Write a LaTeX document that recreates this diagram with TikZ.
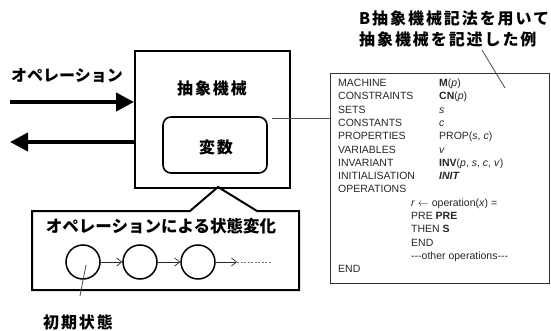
\documentclass[tikz,border=0pt]{standalone}
\usepackage{fontspec}
\setmainfont{Liberation Sans}
\newfontfamily\jp{Noto Sans CJK JP}
\newfontfamily\jpw{Noto Sans CJK JP}[LetterSpace=12]
\usetikzlibrary{arrows.meta,calc}
\begin{document}
\begin{tikzpicture}[x=1pt,y=-1pt,
  jl/.style={font=\jp\bfseries\fontsize{16}{18}\selectfont, inner sep=0pt},
  jlw/.style={font=\jpw\bfseries\fontsize{16}{18}\selectfont, inner sep=0pt},
  codetxt/.style={font=\fontsize{10.5}{12}\selectfont, anchor=base west, inner sep=0pt, text=black!85},
  bigarrow/.style={line width=4pt, -{Triangle[length=18pt,width=18pt]}},
  thinline/.style={line width=0.8pt, draw=black!70},
  statenode/.style={circle, draw, line width=1.5pt, minimum size=34pt, inner sep=0pt},
  smallarrow/.style={line width=0.7pt, draw=black!85, -{Straight Barb[length=5pt,width=8pt]}}
]
\useasboundingbox (0,0) rectangle (551,331);

% abstract machine
\node[draw, line width=2pt, minimum width=155pt, minimum height=137pt, anchor=north west] (machine) at (134,50) {};
\node[jlw] (mlabel) at (212,88) {抽象機械};
\node[draw, rounded corners=8pt, line width=1.6pt, minimum width=104pt, minimum height=56pt] (var) at (215,145) {};
\node[jlw] (varlabel) at (216,147) {変数};

% operation arrows
\node[jl] (oplabel) at (67,76) {オペレーション};
\coordinate (inL) at (10,102);
\coordinate (outL) at (10,142);
\draw[bigarrow] (inL) -- (machine.west |- inL);
\draw[bigarrow] (machine.west |- outL) -- (outL);

% state change box with callout
\coordinate (apex) at (218,187);
\draw[line width=2pt, line join=miter]
  (190,211) -- (apex) -- (257,211) -- (299,211) -- (299,290) -- (32,290) -- (32,211) -- cycle;
\node[jl, font=\jp\bfseries\fontsize{16.5}{18}\selectfont] (stlabel) at (161,226) {オペレーションによる状態変化};
\node[statenode] (s1) at (83,262) {};
\node[statenode] (s2) at (140,262) {};
\node[statenode] (s3) at (198,262) {};
\coordinate (s4tip) at (237,262);
\coordinate (dend) at (272,262);
\draw[smallarrow] (s1) -- (s2);
\draw[smallarrow] (s2) -- (s3);
\draw[smallarrow] (s3) -- (s4tip);
\draw[line width=0.7pt, draw=black!55, dash pattern=on 2pt off 1.5pt] (s4tip) -- (dend);
\node[jlw] (init) at (78,322) {初期状態};
\coordinate (initfoot) at (80,296);
\coordinate (inithead) at (86,265);
\draw[thinline] (initfoot) -- (inithead);

% B machine code box
\node[draw, line width=0.9pt, draw=black!80, minimum width=219pt, minimum height=210pt, anchor=north west] (codebox) at (330,73) {};
\coordinate (cstart) at (272,118);
\draw[thinline] (cstart) -- (codebox.west |- cstart);

\node[jlw, anchor=base west] (title1) at (359,25) {B抽象機械記法を用いて};
\node[jlw, anchor=base west] (title2) at (359,46) {抽象機械を記述した例};
\coordinate (tca) at (482,50);
\coordinate (tcb) at (505,88);
\draw[thinline] (tca) -- (tcb);

\foreach \i/\a/\b in {
  0/MACHINE/{\textbf{M}(\textit{p})},
  1/CONSTRAINTS/{\textbf{CN}(\textit{p})},
  2/SETS/{\textit{s}},
  3/CONSTANTS/{\textit{c}},
  4/PROPERTIES/{PROP(\textit{s}, \textit{c})},
  5/VARIABLES/{\textit{v}},
  6/INVARIANT/{\textbf{INV}(\textit{p}, \textit{s}, \textit{c}, \textit{v})},
  7/INITIALISATION/{\textbf{\textit{INIT}}}}{
  \node[codetxt] (ka\i) at (338,86.6+13.3*\i) {\a};
  \node[codetxt] (kb\i) at (439,86.6+13.3*\i) {\b};
}
\node[codetxt] (ka8) at (338,86.6+13.3*8) {OPERATIONS};
\node[codetxt] (ko9) at (411,86.6+13.3*9) {\textit{r} $\leftarrow$ operation(\textit{x}) =};
\node[codetxt] (ko10) at (411,86.6+13.3*10) {PRE \textbf{PRE}};
\node[codetxt] (ko11) at (411,86.6+13.3*11) {THEN \textbf{S}};
\node[codetxt] (ko12) at (411,86.6+13.3*12) {END};
\node[codetxt] (ko13) at (411,86.6+13.3*13) {\mbox{-}\mbox{-}\mbox{-}other operations\mbox{-}\mbox{-}\mbox{-}};
\node[codetxt] (ka14) at (338,86.6+13.3*14) {END};
\end{tikzpicture}
\end{document}
